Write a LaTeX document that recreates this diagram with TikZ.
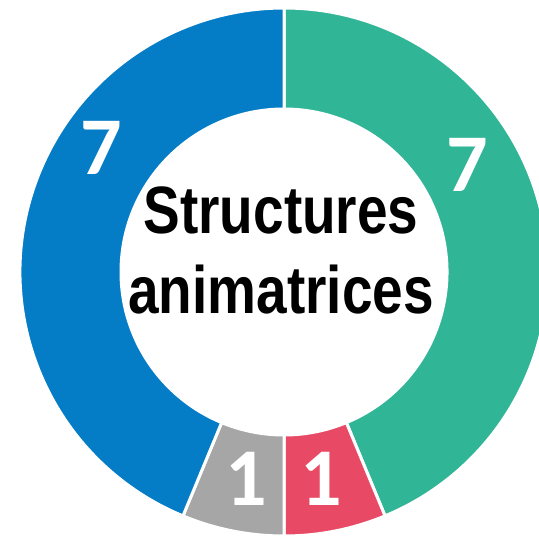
\documentclass[tikz,border=0pt]{standalone}
\usepackage{fontspec}
\setmainfont{Liberation Sans}
\newfontfamily\narrowfont[FakeStretch=0.82]{Liberation Sans}
\newfontfamily\digitfont{Carlito}
\usetikzlibrary{calc}
\definecolor{partblue}{HTML}{057DC6}
\definecolor{partteal}{HTML}{31B597}
\definecolor{partred}{HTML}{E84A66}
\definecolor{partgray}{HTML}{A6A6A6}
\tikzset{
	ring/.style={draw=white, line width=3pt, line join=miter},
	count/.style={text=white, inner sep=0pt,
			font=\digitfont\bfseries\fontsize{82}{82}\selectfont},
	title/.style={align=center, inner sep=0pt,
			font=\narrowfont\bfseries\fontsize{67}{80}\selectfont}
}

\begin{document}
\begin{tikzpicture}
    \useasboundingbox (0,0) rectangle (539pt,-536pt);
    \coordinate (c) at (284pt,-272pt);
    \begin{scope}[shift={(c)}]
        % Structures animatrices: 7 / 1 / 1 / 7
        \filldraw[ring, fill=partteal] (90:264pt) arc[start angle=90, end angle=-67.5, radius=264pt]
            -- (-67.5:163pt) arc[start angle=-67.5, end angle=90, radius=163pt] -- cycle;
        \filldraw[ring, fill=partred] (-67.5:264pt) arc[start angle=-67.5, end angle=-90, radius=264pt]
            -- (-90:163pt) arc[start angle=-90, end angle=-67.5, radius=163pt] -- cycle;
        \filldraw[ring, fill=partgray] (-90:264pt) arc[start angle=-90, end angle=-112.5, radius=264pt]
            -- (-112.5:163pt) arc[start angle=-112.5, end angle=-90, radius=163pt] -- cycle;
        \filldraw[ring, fill=partblue] (-112.5:264pt) arc[start angle=-112.5, end angle=-270, radius=264pt]
            -- (90:163pt) arc[start angle=90, end angle=247.5, radius=163pt] -- cycle;
        \node[count] (teal7) at (30.3:212pt) {7};
        \node[count] (red1) at (-79.9:210pt) {1};
        \node[count] (gray1) at (-100.4:210pt) {1};
        \node[count] (blue7) at (145.9:221pt) {7};
    \end{scope}
    \node[title] (title) at ($(c)+(-3pt,22pt)$) {Structures\\animatrices};
\end{tikzpicture}
\end{document}
